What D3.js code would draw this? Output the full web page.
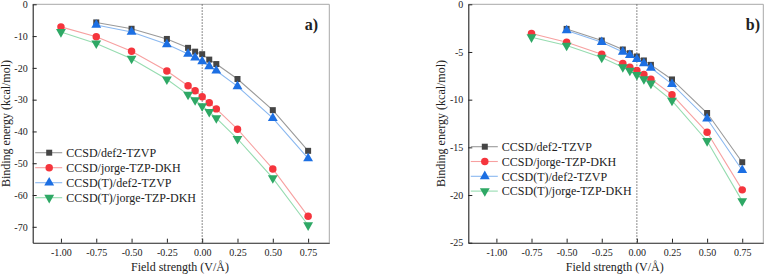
<!DOCTYPE html>
<html>
<head>
<meta charset="utf-8">
<script src="https://cdn.jsdelivr.net/npm/d3@7"></script>
<style>
  body { margin: 0; background: #fff; }
  svg { display: block; }
  text { font-family: "Liberation Serif", "Times New Roman", serif; fill: #222; }
</style>
</head>
<body>
<script>
var width = 766, height = 279;

var seriesNames = ["CCSD/def2-TZVP", "CCSD/jorge-TZP-DKH", "CCSD(T)/def2-TZVP", "CCSD(T)/jorge-TZP-DKH"];
var xTicks = [-1.0, -0.75, -0.5, -0.25, 0, 0.25, 0.5, 0.75];

// panel a)
var aFieldDef2 = [-0.75, -0.5, -0.25, -0.1, -0.05, 0, 0.05, 0.1, 0.25, 0.5, 0.75];
var aFieldJorge = [-1.0, -0.75, -0.5, -0.25, -0.1, -0.05, 0, 0.05, 0.1, 0.25, 0.5, 0.75];
var aCcsdDef2 = [-5.7, -7.7, -10.9, -13.7, -14.9, -15.7, -17.4, -18.8, -23.5, -33.3, -46.1];
var aCcsdJorge = [-7.1, -10.2, -14.8, -21.0, -25.6, -27.2, -29.1, -31.0, -32.9, -39.3, -51.8, -66.7];
var aCcsdtDef2 = [-6.5, -8.7, -12.6, -15.6, -16.8, -18.0, -19.5, -20.9, -25.8, -35.8, -48.5];
var aCcsdtJorge = [-8.7, -12.3, -17.1, -23.6, -28.4, -30.1, -32.0, -33.8, -35.8, -42.3, -54.7, -69.5];
var aYTicks = [0, -10, -20, -30, -40, -50, -60, -70];

// panel b)
var bFieldDef2 = [-0.5, -0.25, -0.1, -0.05, 0, 0.05, 0.1, 0.25, 0.5, 0.75];
var bFieldJorge = [-0.75, -0.5, -0.25, -0.1, -0.05, 0, 0.05, 0.1, 0.25, 0.5, 0.75];
var bCcsdDef2 = [-2.58, -3.8, -4.74, -5.13, -5.47, -5.89, -6.35, -7.88, -11.4, -16.56];
var bCcsdJorge = [-3.07, -3.97, -5.23, -6.2, -6.6, -6.94, -7.36, -7.85, -9.48, -13.42, -19.46];
var bCcsdtDef2 = [-2.75, -3.97, -5.0, -5.33, -5.75, -6.2, -6.66, -8.37, -12.0, -17.4];
var bCcsdtJorge = [-3.45, -4.32, -5.58, -6.59, -6.94, -7.39, -7.85, -8.3, -10.1, -14.33, -20.64];
var bYTicks = [0, -5, -10, -15, -20, -25];

var styles = [
  { marker: "#454545", line: "#9a9a9a", symbol: d3.symbolSquare, size: 36, rot: 0 },
  { marker: "#f5353d", line: "#f7a0a0", symbol: d3.symbolCircle, size: 44, rot: 0 },
  { marker: "#1c6fe3", line: "#8ab8f0", symbol: d3.symbolTriangle, size: 42, rot: 0 },
  { marker: "#2ea865", line: "#96dcb0", symbol: d3.symbolTriangle, size: 42, rot: 180 }
];

var svg = d3.select("body").append("svg")
    .attr("width", width)
    .attr("height", height);

function fmtX(d) { return d3.format(".2f")(d).replace("\u2212", "-"); }
function fmtY(d) { return String(d); }

function drawPanel(opt) {
  var x = d3.scaleLinear().domain([-1.2, 0.9]).range([opt.left, opt.right]);
  var y = d3.scaleLinear().domain(opt.yDomain).range([opt.bottom, opt.top]);
  var g = svg.append("g");

  // top / right frame
  g.append("path")
    .attr("d", "M" + opt.left + "," + opt.top + "H" + opt.right + "V" + opt.bottom)
    .attr("fill", "none").attr("stroke", "#a8a8a8").attr("stroke-width", 1);

  // zero field dotted line
  g.append("line")
    .attr("x1", x(0)).attr("x2", x(0))
    .attr("y1", opt.top).attr("y2", opt.bottom)
    .attr("stroke", "#555").attr("stroke-width", 0.9)
    .attr("stroke-dasharray", "1.5,1.5");

  var xAxis = g.append("g")
    .attr("transform", "translate(0," + opt.bottom + ")")
    .call(d3.axisBottom(x).tickValues(xTicks).tickFormat(fmtX)
      .tickSizeInner(-4).tickSizeOuter(0).tickPadding(6));
  var yAxis = g.append("g")
    .attr("transform", "translate(" + opt.left + ",0)")
    .call(d3.axisLeft(y).tickValues(opt.yTicks).tickFormat(fmtY)
      .tickSizeInner(-4).tickSizeOuter(0).tickPadding(5));
  [xAxis, yAxis].forEach(function(a) {
    a.select(".domain").attr("stroke", "#222").attr("stroke-width", 1.1);
    a.selectAll(".tick line").attr("stroke", "#222");
    a.selectAll(".tick text").attr("font-size", 10)
      .style("font-family", "'Liberation Serif', serif").attr("fill", "#222");
  });

  g.append("text")
    .attr("x", (opt.left + opt.right) / 2 - 1)
    .attr("y", 271)
    .attr("text-anchor", "middle")
    .attr("font-size", 12)
    .text("Field strength (V/\u00c5)");

  g.append("text")
    .attr("transform", "translate(" + (opt.left - 23) + "," + ((opt.top + opt.bottom) / 2) + ") rotate(-90)")
    .attr("text-anchor", "middle")
    .attr("font-size", 12)
    .text("Binding energy (kcal/mol)");

  g.append("text")
    .attr("x", opt.tagX).attr("y", 30)
    .attr("text-anchor", "end")
    .attr("font-size", 16).attr("font-weight", "bold")
    .text(opt.tag);

  var line = d3.line().x(function(d) { return x(d[0]); }).y(function(d) { return y(d[1]); });

  opt.series.forEach(function(s, i) {
    var st = styles[i];
    var pts = d3.zip(s.xs, s.ys);
    g.append("path").datum(pts)
      .attr("d", line)
      .attr("fill", "none").attr("stroke", st.line).attr("stroke-width", 1.1);
    g.selectAll(".m" + i).data(pts).enter().append("path")
      .attr("class", "m" + i)
      .attr("transform", function(d) { return "translate(" + x(d[0]) + "," + y(d[1]) + ") rotate(" + st.rot + ")"; })
      .attr("d", d3.symbol().type(st.symbol).size(st.size))
      .attr("fill", st.marker);
  });

  // legend
  var lg = g.append("g").attr("transform", "translate(" + opt.left + "," + opt.legendTop + ")");
  seriesNames.forEach(function(name, i) {
    var st = styles[i];
    var row = lg.append("g").attr("transform", "translate(0," + (i * opt.legendStep) + ")");
    row.append("line").attr("x1", 2.5).attr("x2", 29.5).attr("y1", 0).attr("y2", 0)
      .attr("stroke", st.line).attr("stroke-width", 1.1);
    row.append("path")
      .attr("transform", "translate(16.5,0) rotate(" + st.rot + ")")
      .attr("d", d3.symbol().type(st.symbol).size(st.size))
      .attr("fill", st.marker);
    row.append("text").attr("x", 33.5).attr("y", 0).attr("dy", "0.35em")
      .attr("font-size", 12).text(name);
  });
}

drawPanel({
  left: 32.7, right: 329.3, top: 4.3, bottom: 242.7,
  yDomain: [-75, 0], yTicks: aYTicks,
  tag: "a)", tagX: 318,
  legendTop: 152.7, legendStep: 15,
  series: [
    { xs: aFieldDef2, ys: aCcsdDef2 },
    { xs: aFieldJorge, ys: aCcsdJorge },
    { xs: aFieldDef2, ys: aCcsdtDef2 },
    { xs: aFieldJorge, ys: aCcsdtJorge }
  ]
});

drawPanel({
  left: 468.3, right: 763.3, top: 4.3, bottom: 242.7,
  yDomain: [-25, 0], yTicks: bYTicks,
  tag: "b)", tagX: 760,
  legendTop: 146.7, legendStep: 14.8,
  series: [
    { xs: bFieldDef2, ys: bCcsdDef2 },
    { xs: bFieldJorge, ys: bCcsdJorge },
    { xs: bFieldDef2, ys: bCcsdtDef2 },
    { xs: bFieldJorge, ys: bCcsdtJorge }
  ]
});
</script>
</body>
</html>
